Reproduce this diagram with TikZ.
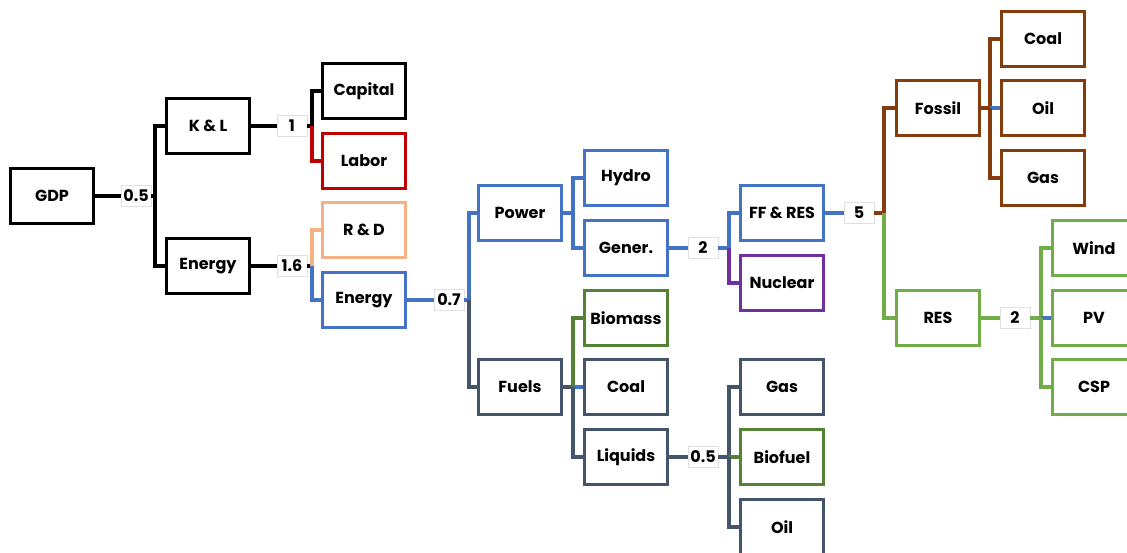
\documentclass[tikz,border=0pt]{standalone}
\usepackage{fontspec}
\setmainfont{Poppins}
\usetikzlibrary{calc}
\definecolor{cBlue}{RGB}{68,114,196}
\definecolor{cSlate}{RGB}{68,84,106}
\definecolor{cRed}{RGB}{192,0,0}
\definecolor{cPeach}{RGB}{244,177,131}
\definecolor{cPurple}{RGB}{112,48,160}
\definecolor{cGreen}{RGB}{84,130,53}
\definecolor{cLight}{RGB}{112,173,71}
\definecolor{cBrown}{RGB}{132,60,12}

\begin{document}
\begin{tikzpicture}[x=1pt,y=-1pt,line width=3.2pt,
	box/.style={draw=#1,text=black,line width=2.8pt,minimum width=83pt,minimum height=55pt,inner sep=0pt,font=\fontsize{16}{19}\selectfont\bfseries},
	box/.default=black,
	wt/.style={draw=black!12,line width=0.6pt,fill=white,minimum width=30pt,minimum height=21pt,inner sep=1pt,font=\fontsize{16}{19}\selectfont\bfseries}]
	\clip (0,0) rectangle (1127,553);
	\useasboundingbox (0,0) rectangle (1127,553);
	% first level
	\node[box] at (52,196) (gdp) {GDP};
	\node[box] at (208,126) (kl) {K \& L};
	\node[box] at (208,266) (en) {Energy};
	\node[wt] at (136,196) (w1) {0.5};
	\coordinate (b1) at (155,196);
	\draw (gdp) -- (w1);
	\draw (w1) -- (b1);
	\draw (b1) |- (kl);
	\draw (b1) |- (en);
	% capital and labor
	\node[box] at (364,91) (cap) {Capital};
	\node[box=cRed] at (364,161) (lab) {Labor};
	\node[wt] at (292,126) (w2) {1};
	\coordinate (b2) at (312,126);
	\draw (kl) -- (w2);
	\draw (w2) -- (b2);
	\draw (b2) |- (cap);
	\draw[cRed] (b2) |- (lab);
	% r&d and energy
	\node[box=cPeach] at (364,230) (rd) {R \& D};
	\node[box=cBlue] at (364,300) (en2) {Energy};
	\node[wt] at (292,266) (w3) {1.6};
	\coordinate (b3) at (312,266);
	\draw (en) -- (w3);
	\draw (w3) -- (b3);
	\draw[cPeach] (b3) |- (rd);
	\draw[cBlue] (b3) |- (en2);
	% power and fuels
	\node[box=cBlue] at (520,213) (pow) {Power};
	\node[box=cSlate] at (520,387) (fue) {Fuels};
	\node[wt] at (449,300) (w4) {0.7};
	\coordinate (b4) at (469,300);
	\draw[cBlue] (en2) -- (w4);
	\draw[cBlue] (w4) -- (b4);
	\draw[cBlue] (b4) |- (pow);
	\draw[cSlate] (b4) |- (fue);
	% power branch
	\node[box=cBlue] at (626,178) (hyd) {Hydro};
	\node[box=cBlue] at (626,248) (gen) {Gener.};
	\coordinate (b5) at (573,213);
	\draw[cBlue] (pow) -- (b5);
	\draw[cBlue] (b5) |- (hyd);
	\draw[cBlue] (b5) |- (gen);
	% fuels branch
	\node[box=cGreen] at (626,318) (bio) {Biomass};
	\node[box=cSlate] at (626,387) (coa) {Coal};
	\node[box=cSlate] at (626,457) (liq) {Liquids};
	\coordinate (b6) at (573,387);
	\draw[cSlate] (fue) -- (b6);
	\draw[cGreen] (b6) |- (bio);
	\draw[cBlue] (b6) -- (coa);
	\draw[cSlate] (b6) |- (liq);
	% generation
	\node[box=cBlue] at (782,213) (ffr) {FF \& RES};
	\node[box=cPurple] at (782,283) (nuc) {Nuclear};
	\node[wt] at (703,248) (w5) {2};
	\coordinate (b7) at (729,248);
	\draw[cBlue] (gen) -- (w5);
	\draw[cBlue] (w5) -- (b7);
	\draw[cBlue] (b7) |- (ffr);
	\draw[cPurple] (b7) |- (nuc);
	% liquids
	\node[box=cSlate] at (782,387) (gas) {Gas};
	\node[box=cGreen] at (782,457) (bfu) {Biofuel};
	\node[box=cSlate] at (782,527) (oil) {Oil};
	\node[wt] at (703,457) (w6) {0.5};
	\coordinate (b8) at (729,457);
	\draw[cSlate] (liq) -- (w6);
	\draw[cSlate] (w6) -- (b8);
	\draw[cSlate] (b8) |- (gas);
	\draw[cGreen] (b8) -- (bfu);
	\draw[cSlate] (b8) |- (oil);
	% fossil and res
	\node[box=cBrown] at (938,108) (fos) {Fossil};
	\node[box=cLight] at (938,318) (res) {RES};
	\node[wt] at (859,213) (w7) {5};
	\coordinate (b9) at (884,213);
	\draw[cBlue] (ffr) -- (w7);
	\draw[cBrown] (w7) -- (b9);
	\draw[cBrown] (b9) |- (fos);
	\draw[cLight] (b9) |- (res);
	% fossil branch
	\node[box=cBrown] at (1043,39) (fco) {Coal};
	\node[box=cBrown] at (1043,108) (foi) {Oil};
	\node[box=cBrown] at (1043,178) (fga) {Gas};
	\coordinate (b10) at (990,108);
	\draw[cBrown] (fos) -- (b10);
	\draw[cBrown] (b10) |- (fco);
	\draw[cBlue] (b10) -- (foi);
	\draw[cBrown] (b10) |- (fga);
	% res branch
	\node[box=cLight] at (1094,248) (win) {Wind};
	\node[box=cLight] at (1094,318) (pv) {PV};
	\node[box=cLight] at (1094,387) (csp) {CSP};
	\node[wt] at (1015,318) (w8) {2};
	\coordinate (b11) at (1041,318);
	\draw[cLight] (res) -- (w8);
	\draw[cLight] (w8) -- (b11);
	\draw[cLight] (b11) |- (win);
	\draw[cBlue] (b11) -- (pv);
	\draw[cLight] (b11) |- (csp);
\end{tikzpicture}
\end{document}
